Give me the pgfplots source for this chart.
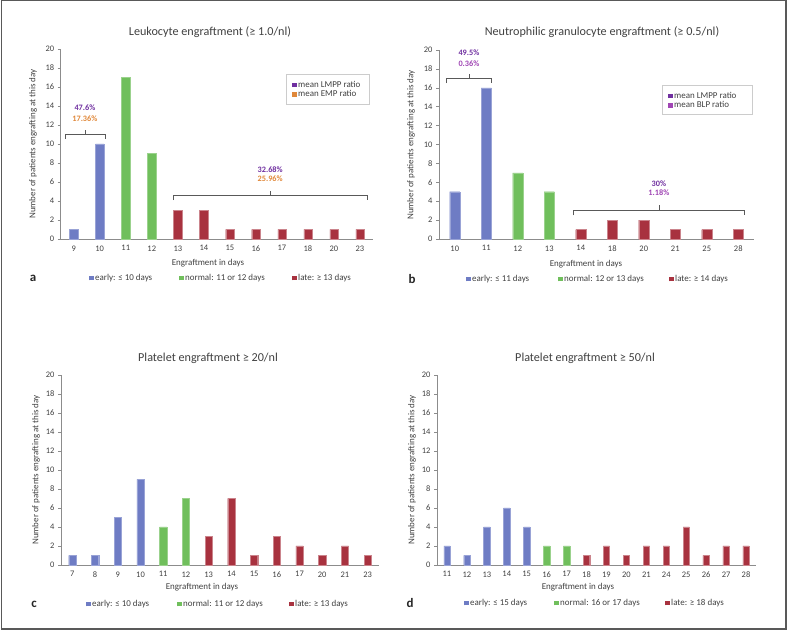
\documentclass[border=0pt]{standalone}
\usepackage{fontspec}
\setmainfont{Carlito}
\usepackage{pgfplots}
\pgfplotsset{compat=1.18}

\definecolor{cblue}{HTML}{6E7CC4}
\definecolor{cgreen}{HTML}{70BF5C}
\definecolor{cred}{HTML}{A8323F}
\definecolor{lmpp}{HTML}{7030A0}
\definecolor{emp}{HTML}{E0883A}
\definecolor{blp}{HTML}{A046B4}
\definecolor{axgray}{HTML}{8C8C8C}
\definecolor{txt}{HTML}{404040}

\newcommand{\sq}[1]{\textcolor{#1}{\rule{4.5bp}{4.5bp}}}

\pgfplotsset{
  panel/.style={
    scale only axis, anchor=south west,
    ybar, bar width=0.32, bar shift=0pt,
    ymin=0, ymax=20, ytick={0,2,...,20},
    axis x line*=bottom, axis y line*=left,
    axis line style={-, draw=axgray, line width=0.6bp},
    tick style={axgray, line width=0.5bp},
    major x tick style={draw=none},
    tick align=outside, major tick length=3bp,
    tick label style={font=\fontsize{8.5}{10}\selectfont, text=txt},
    /pgf/number format/assume math mode=true,
    clip=false,
  },
  blue/.style={fill=cblue, draw=cblue!70!white, line width=0.4bp},
  green/.style={fill=cgreen, draw=cgreen!70!white, line width=0.4bp},
  red/.style={fill=cred, draw=cred!60!white, line width=0.4bp},
}

\tikzset{
  ttl/.style={font=\fontsize{12.2}{14}\selectfont, text=txt},
  lab/.style={font=\fontsize{9}{11}\selectfont, text=txt},
  leg/.style={font=\fontsize{9}{11}\selectfont, text=txt, anchor=west, inner sep=0pt},
  let/.style={font=\fontsize{13}{15}\selectfont\bfseries, text=black!85},
  ann/.style={font=\fontsize{8.3}{10}\selectfont\bfseries},
  brk/.style={draw=black!65, line width=0.6bp},
}

\begin{document}
\begin{tikzpicture}
\path[use as bounding box] (0,0) rectangle (788bp,630bp);
\draw[black!65, line width=1.3bp] (1.5bp,1bp) rectangle (786bp,629.3bp);

% ---------------- panel a ----------------
\begin{axis}[panel, at={(60.7bp,391bp)}, width=312.3bp, height=190bp,
  xmin=-0.5, xmax=11.5, xtick={0,...,11},
  xticklabels={9,10,11,12,13,14,15,16,17,18,20,23}]
\addplot[blue] coordinates {(0,1) (1,10)};
\addplot[green] coordinates {(2,17) (3,9)};
\addplot[red] coordinates {(4,3) (5,3) (6,1) (7,1) (8,1) (9,1) (10,1) (11,1)};
\draw[brk] (axis cs:-0.33,10.55) -- (axis cs:-0.33,11) -- (axis cs:1.2,11) -- (axis cs:1.2,10.55);
\draw[brk] (axis cs:0.43,11) -- (axis cs:0.43,11.45);
\node[ann, text=lmpp] at (axis cs:0.43,13.8) {47.6\%};
\node[ann, text=emp] at (axis cs:0.43,12.7) {17.36\%};
\draw[brk] (axis cs:3.82,4.1) -- (axis cs:3.82,4.6) -- (axis cs:11.28,4.6) -- (axis cs:11.28,4.1);
\draw[brk] (axis cs:7.55,4.6) -- (axis cs:7.55,5.1);
\node[ann, text=lmpp] at (axis cs:7.55,7.3) {32.68\%};
\node[ann, text=emp] at (axis cs:7.55,6.3) {25.96\%};
\end{axis}
\node[ttl] at (210bp,598bp) {Leukocyte engraftment (≥ 1.0/nl)};
\node[lab, rotate=90] at (33bp,486bp) {Number of patients engrafting at this day};
\node[lab] at (208bp,367bp) {Engraftment in days};
\node[let] at (33bp,352bp) {a};
\node[leg] at (89bp,352bp) {\sq{cblue}\,early: ≤ 10 days};
\node[leg] at (179bp,352bp) {\sq{cgreen}\,normal: 11 or 12 days};
\node[leg] at (292bp,352bp) {\sq{cred}\,late: ≥ 13 days};
\node[draw=black!20, line width=0.6bp, anchor=north west, minimum width=83bp, minimum height=30bp] at (286bp,556bp) {};
\node[leg] at (292bp,546bp) {\sq{lmpp}\,mean LMPP ratio};
\node[leg] at (292bp,536.5bp) {\sq{emp}\,mean EMP ratio};

% ---------------- panel b ----------------
\begin{axis}[panel, at={(439bp,391bp)}, width=315bp, height=189bp,
  xmin=-0.5, xmax=9.5, xtick={0,...,9},
  xticklabels={10,11,12,13,14,18,20,21,25,28}]
\addplot[blue] coordinates {(0,5) (1,16)};
\addplot[green] coordinates {(2,7) (3,5)};
\addplot[red] coordinates {(4,1) (5,2) (6,2) (7,1) (8,1) (9,1)};
\draw[brk] (axis cs:-0.28,16.5) -- (axis cs:-0.28,17) -- (axis cs:1.15,17) -- (axis cs:1.15,16.5);
\draw[brk] (axis cs:0.45,17) -- (axis cs:0.45,17.45);
\node[ann, text=lmpp] at (axis cs:0.45,19.7) {49.5\%};
\node[ann, text=blp] at (axis cs:0.45,18.6) {0.36\%};
\draw[brk] (axis cs:3.75,2.5) -- (axis cs:3.75,3.05) -- (axis cs:9.18,3.05) -- (axis cs:9.18,2.5);
\draw[brk] (axis cs:6.48,3.05) -- (axis cs:6.48,3.55);
\node[ann, text=lmpp] at (axis cs:6.48,5.9) {30\%};
\node[ann, text=blp] at (axis cs:6.48,4.87) {1.18\%};
\end{axis}
\node[ttl] at (602bp,598bp) {Neutrophilic granulocyte engraftment (≥ 0.5/nl)};
\node[lab, rotate=90] at (411bp,485bp) {Number of patients engrafting at this day};
\node[lab] at (586bp,366bp) {Engraftment in days};
\node[let] at (412bp,351bp) {b};
\node[leg] at (466bp,351bp) {\sq{cblue}\,early: ≤ 11 days};
\node[leg] at (558bp,351bp) {\sq{cgreen}\,normal: 12 or 13 days};
\node[leg] at (669bp,351bp) {\sq{cred}\,late: ≥ 14 days};
\node[draw=black!20, line width=0.6bp, anchor=north west, minimum width=90bp, minimum height=29bp] at (662bp,545bp) {};
\node[leg] at (668bp,535bp) {\sq{lmpp}\,mean LMPP ratio};
\node[leg] at (668bp,525.5bp) {\sq{blp}\,mean BLP ratio};

% ---------------- panel c ----------------
\begin{axis}[panel, at={(61bp,65bp)}, width=318bp, height=190bp,
  xmin=-0.5, xmax=13.5, xtick={0,...,13},
  xticklabels={7,8,9,10,11,12,13,14,15,16,17,20,21,23}]
\addplot[blue] coordinates {(0,1) (1,1) (2,5) (3,9)};
\addplot[green] coordinates {(4,4) (5,7)};
\addplot[red] coordinates {(6,3) (7,7) (8,1) (9,3) (10,2) (11,1) (12,2) (13,1)};
\end{axis}
\node[ttl] at (208bp,272bp) {Platelet engraftment ≥ 20/nl};
\node[lab, rotate=90] at (36bp,160bp) {Number of patients engrafting at this day};
\node[lab] at (202bp,43bp) {Engraftment in days};
\node[let] at (34bp,26bp) {c};
\node[leg] at (86bp,26bp) {\sq{cblue}\,early: ≤ 10 days};
\node[leg] at (177bp,26bp) {\sq{cgreen}\,normal: 11 or 12 days};
\node[leg] at (289bp,26bp) {\sq{cred}\,late: ≥ 13 days};

% ---------------- panel d ----------------
\begin{axis}[panel, at={(437bp,65bp)}, width=319bp, height=190bp,
  xmin=-0.5, xmax=15.5, xtick={0,...,15},
  xticklabels={11,12,13,14,15,16,17,18,19,20,21,24,25,26,27,28}]
\addplot[blue] coordinates {(0,2) (1,1) (2,4) (3,6) (4,4)};
\addplot[green] coordinates {(5,2) (6,2)};
\addplot[red] coordinates {(7,1) (8,2) (9,1) (10,2) (11,2) (12,4) (13,1) (14,2) (15,2)};
\end{axis}
\node[ttl] at (585bp,272bp) {Platelet engraftment ≥ 50/nl};
\node[lab, rotate=90] at (412bp,160bp) {Number of patients engrafting at this day};
\node[lab] at (578bp,43bp) {Engraftment in days};
\node[let] at (410bp,27bp) {d};
\node[leg] at (464bp,27bp) {\sq{cblue}\,early: ≤ 15 days};
\node[leg] at (554bp,27bp) {\sq{cgreen}\,normal: 16 or 17 days};
\node[leg] at (665bp,27bp) {\sq{cred}\,late: ≥ 18 days};
\end{tikzpicture}
\end{document}
